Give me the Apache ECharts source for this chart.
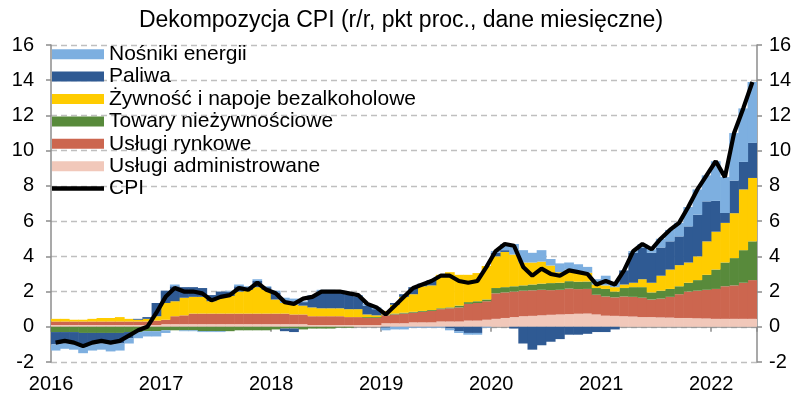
<!DOCTYPE html>
<html>
<head>
<meta charset="utf-8">
<script src="https://cdn.jsdelivr.net/npm/echarts@6/dist/echarts.min.js"></script>
<style>
  html, body { margin: 0; padding: 0; background: #fff; }
  #chart { width: 802px; height: 396px; }
</style>
</head>
<body>
<div id="chart"></div>
<script>
// Miesiące: od 2016-01 do 2022-05
const months = [];
for (let y = 2016; y <= 2022; y++) {
  for (let m = 1; m <= 12; m++) {
    if (y === 2022 && m > 5) break;
    months.push(y + '-' + (m < 10 ? '0' + m : m));
  }
}

// Wkłady do inflacji CPI (pkt proc.)
const uslugiAdministrowane = [
  0.1, 0.1, 0.1, 0.1, 0.1, 0.1, 0.1, 0.1, 0.1, 0.1, 0.1, 0.1,
  0.15, 0.15, 0.15, 0.15, 0.15, 0.15, 0.15, 0.15, 0.15, 0.15, 0.15, 0.15,
  0.15, 0.15, 0.15, 0.15, 0.1, 0.1, 0.1, 0.1, 0.1, 0.1, 0.1, 0.1,
  0.2, 0.2, 0.2, 0.25, 0.25, 0.25, 0.3, 0.3, 0.3, 0.35, 0.35, 0.4,
  0.45, 0.5, 0.55, 0.6, 0.62, 0.65, 0.68, 0.7, 0.72, 0.74, 0.75, 0.7,
  0.63, 0.62, 0.6, 0.58, 0.55, 0.55, 0.53, 0.52, 0.5, 0.5, 0.48, 0.47,
  0.45, 0.45, 0.45, 0.45, 0.45
];
const uslugiRynkowe = [
  0.2, 0.2, 0.2, 0.2, 0.2, 0.2, 0.2, 0.2, 0.2, 0.2, 0.2, 0.25,
  0.25, 0.45, 0.5, 0.6, 0.6, 0.6, 0.6, 0.6, 0.6, 0.6, 0.6, 0.6,
  0.6, 0.6, 0.55, 0.55, 0.5, 0.5, 0.5, 0.5, 0.45, 0.45, 0.4, 0.4,
  0.45, 0.5, 0.55, 0.55, 0.6, 0.65, 0.7, 0.75, 0.8, 0.95, 1.0, 1.05,
  1.45, 1.45, 1.45, 1.45, 1.45, 1.45, 1.4, 1.4, 1.45, 1.4, 1.4, 1.12,
  1.09, 1.05, 1.12, 1.12, 1.1, 1.0, 1.07, 1.18, 1.35, 1.5, 1.57, 1.63,
  1.7, 1.85, 1.9, 2.05, 2.2
];
const towaryNiezywnosciowe = [
  -0.3, -0.3, -0.3, -0.35, -0.35, -0.35, -0.35, -0.35, -0.3, -0.3, -0.25, -0.25,
  -0.2, -0.2, -0.2, -0.2, -0.25, -0.25, -0.25, -0.25, -0.2, -0.2, -0.2, -0.2,
  -0.15, -0.1, -0.1, -0.15, -0.1, -0.1, -0.1, -0.05, -0.05, 0, 0.05, 0.05,
  0.05, 0.05, 0.05, 0.05, 0.05, 0.05, 0.05, 0.05, 0.1, 0.1, 0.1, 0.1,
  0.3, 0.3, 0.3, 0.3, 0.33, 0.35, 0.4, 0.4, 0.42, 0.42, 0.42, 0.38,
  0.43, 0.33, 0.48, 0.55, 0.6, 0.4, 0.45, 0.45, 0.45, 0.5, 0.6, 0.85,
  1.1, 1.35, 1.55, 1.85, 2.2
];
const zywnosc = [
  0.15, 0.15, 0.1, 0.1, 0.15, 0.2, 0.2, 0.25, 0.15, 0.1, 0.15, 0.25,
  0.95, 0.85, 1.0, 0.95, 0.95, 0.7, 0.9, 1.0, 1.25, 1.35, 1.5, 1.35,
  0.8, 0.6, 0.55, 0.5, 0.5, 0.45, 0.45, 0.45, 0.45, 0.45, 0.15, 0.1,
  0.2, 0.5, 0.9, 1.0, 1.4, 1.4, 1.9, 2.0, 1.75, 1.55, 1.6, 1.9,
  1.8, 2.0, 1.8, 1.3, 1.25, 1.25, 1.0, 0.6, 0.65, 0.6, 0.5, 0.2,
  0.2, 0.25, 0.2, 0.25, 0.45, 0.55, 0.85, 1.1, 1.2, 1.15, 1.35, 1.9,
  2.15, 2.25, 2.55, 3.45, 3.6
];
const paliwa = [
  -0.7, -0.65, -0.7, -0.8, -0.65, -0.6, -0.65, -0.6, -0.35, 0.05, 0.1, 0.75,
  0.7, 0.85, 0.6, 0.55, 0.5, 0.35, 0.35, 0.25, 0.3, 0.1, 0.35, 0.15,
  0.4, -0.15, -0.2, 0.2, 0.65, 0.95, 0.95, 0.9, 0.85, 0.7, 0.5, 0.35,
  -0.05, 0.1, 0.15, 0.4, 0.15, 0.3, 0, -0.1, -0.25, -0.35, -0.35, 0,
  0.2, 0.1, -0.1, -0.95, -1.3, -1.05, -0.85, -0.7, -0.45, -0.45, -0.4, -0.3,
  -0.3, -0.15, 0.8, 1.7, 1.8, 1.7, 1.6, 1.6, 1.63, 2.05, 2.36, 2.27,
  1.75, 0.56, 1.85, 1.56, 1.99
];
const nosnikiEnergii = [
  -0.35, -0.3, -0.3, -0.35, -0.35, -0.35, -0.4, -0.4, -0.3, -0.35, -0.3, -0.3,
  -0.15, 0.1, -0.05, -0.05, -0.05, -0.05, -0.05, 0.05, 0.1, 0.1, 0.1, 0.05,
  0.1, 0.3, 0.35, 0.05, 0.05, 0.1, 0.1, 0.1, 0.1, 0.1, 0.1, 0.1,
  -0.15, -0.15, -0.15, -0.05, -0.05, -0.05, -0.05, -0.1, -0.1, -0.1, -0.1, -0.05,
  0.1, 0.35, 0.6, 0.7, 0.55, 0.65, 0.37, 0.5, 0.41, 0.39, 0.33, 0.3,
  0.55, 0.3, 0.0, 0.1, 0.2, 0.2, 0.5, 0.65, 0.77, 1.1, 1.44, 1.48,
  2.25, 2.04, 2.7, 3.04, 3.46
];
// Inflacja CPI r/r (%)
const cpi = [
  -0.9, -0.8, -0.9, -1.1, -0.9, -0.8, -0.9, -0.8, -0.5, -0.2, 0.0, 0.8,
  1.7, 2.2, 2.0, 2.0, 1.9, 1.5, 1.7, 1.8, 2.2, 2.1, 2.5, 2.1,
  1.9, 1.4, 1.3, 1.6, 1.7, 2.0, 2.0, 2.0, 1.9, 1.8, 1.3, 1.1,
  0.7, 1.2, 1.7, 2.2, 2.4, 2.6, 2.9, 2.9, 2.6, 2.5, 2.6, 3.4,
  4.3, 4.7, 4.6, 3.4, 2.9, 3.3, 3.0, 2.9, 3.2, 3.1, 3.0, 2.4,
  2.6, 2.4, 3.2, 4.3, 4.7, 4.4, 5.0, 5.5, 5.9, 6.8, 7.8, 8.6,
  9.4, 8.5, 11.0, 12.4, 13.9
];

const FONT = "'Liberation Sans', Arial, sans-serif";
const AXIS_GREY = '#8c8c8c';

const components = [
  { name: 'Usługi administrowane', data: uslugiAdministrowane, color: '#F1C8BA' },
  { name: 'Usługi rynkowe', data: uslugiRynkowe, color: '#CC664F' },
  { name: 'Towary nieżywnościowe', data: towaryNiezywnosciowe, color: '#588A3B' },
  { name: 'Żywność i napoje bezalkoholowe', data: zywnosc, color: '#FFCC00' },
  { name: 'Paliwa', data: paliwa, color: '#2F5A93' },
  { name: 'Nośniki energii', data: nosnikiEnergii, color: '#7DAFE0' }
];

// Stacked columns drawn edge to edge, slightly overlapping to hide seams
const series = components.map(c => ({
  name: c.name,
  type: 'bar',
  stack: 'cpi',
  data: c.data,
  barWidth: '106%',
  barCategoryGap: '0%',
  itemStyle: { color: c.color },
  emphasis: { disabled: true }
}));
series.push({
  name: 'CPI',
  type: 'line',
  data: cpi,
  symbol: 'none',
  lineStyle: { color: '#000', width: 4.2 },
  itemStyle: { color: '#000' },
  z: 10
});

const isYearStart = i => i % 12 === 0;

const chart = echarts.init(document.getElementById('chart'), null, { renderer: 'canvas' });
chart.setOption({
  animation: false,
  backgroundColor: '#fff',
  textStyle: { fontFamily: FONT },
  title: {
    text: 'Dekompozycja CPI (r/r, pkt proc., dane miesięczne)',
    left: 'center',
    top: 4,
    textStyle: { fontFamily: FONT, fontSize: 23, fontWeight: 'normal', color: '#000' }
  },
  legend: {
    orient: 'vertical',
    left: 52,
    top: 43,
    itemWidth: 52,
    itemHeight: 10,
    itemGap: 0,
    padding: 0,
    symbolKeepAspect: true,
    data: [
      { name: 'Nośniki energii', icon: 'rect' },
      { name: 'Paliwa', icon: 'rect' },
      { name: 'Żywność i napoje bezalkoholowe', icon: 'rect' },
      { name: 'Towary nieżywnościowe', icon: 'rect' },
      { name: 'Usługi rynkowe', icon: 'rect' },
      { name: 'Usługi administrowane', icon: 'rect' },
      { name: 'CPI', icon: 'path://M0,0 L52,0 L52,4.5 L0,4.5 Z', itemStyle: { color: '#000' } }
    ],
    textStyle: { fontFamily: FONT, fontSize: 21, color: '#000', lineHeight: 22.4 },
    selectedMode: false
  },
  grid: { left: 51, right: 45, top: 45, bottom: 34, containLabel: false },
  xAxis: [
    {
      type: 'category',
      data: months,
      position: 'bottom',
      axisLine: { show: false, onZero: false },
      axisTick: { show: false },
      splitLine: { show: false },
      axisLabel: {
        interval: (i) => isYearStart(i),
        formatter: v => v.slice(0, 4),
        fontFamily: FONT,
        fontSize: 20,
        color: '#000',
        margin: 12,
        padding: [0, 9, 0, 0]
      }
    },
    {
      type: 'category',
      data: months,
      position: 'bottom',
      axisLine: { show: true, onZero: true, lineStyle: { color: AXIS_GREY, width: 1.5 } },
      axisTick: { show: true, interval: (i) => isYearStart(i), length: 5, lineStyle: { color: AXIS_GREY, width: 1.5 } },
      axisLabel: { show: false },
      splitLine: { show: false }
    }
  ],
  yAxis: [
    {
      type: 'value',
      position: 'left',
      min: -2, max: 16, interval: 2,
      axisLine: { show: true, lineStyle: { color: AXIS_GREY, width: 1.5 } },
      axisTick: { show: true, length: 5, lineStyle: { color: AXIS_GREY, width: 1.5 } },
      axisLabel: { fontFamily: FONT, fontSize: 20, color: '#000', margin: 17 },
      splitLine: { show: true, lineStyle: { color: '#BFBFBF', type: [6, 4], width: 1.3 } }
    },
    {
      type: 'value',
      position: 'right',
      min: -2, max: 16, interval: 2,
      axisLine: { show: true, lineStyle: { color: AXIS_GREY, width: 1.5 } },
      axisTick: { show: true, length: 5, lineStyle: { color: AXIS_GREY, width: 1.5 } },
      axisLabel: { fontFamily: FONT, fontSize: 20, color: '#000', margin: 12 },
      splitLine: { show: false }
    }
  ],
  series: series
});
</script>
</body>
</html>
